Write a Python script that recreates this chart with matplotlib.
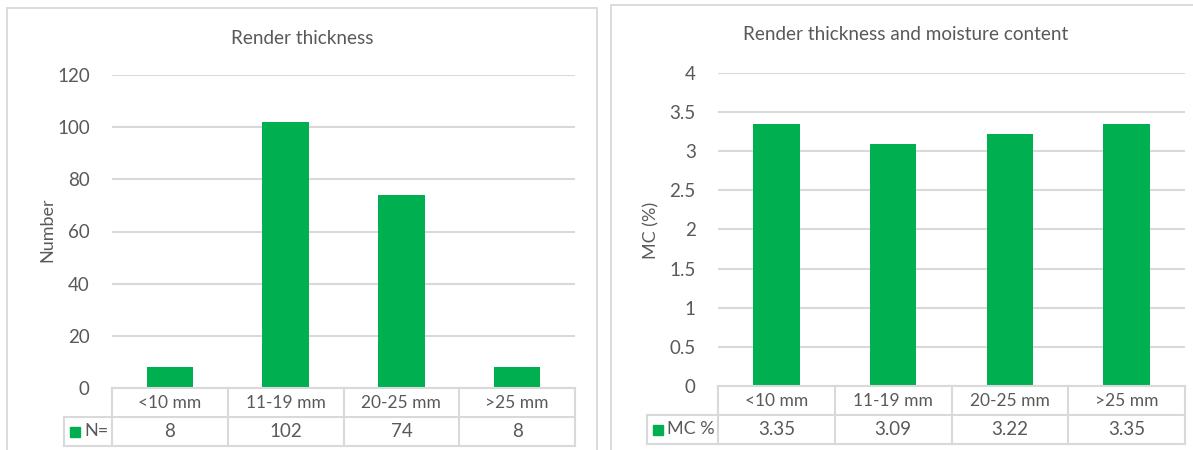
import matplotlib
matplotlib.use("Agg")
import matplotlib.pyplot as plt
from matplotlib.patches import Rectangle

# Data
categories = ["<10 mm", "11-19 mm", "20-25 mm", ">25 mm"]
counts = [8, 102, 74, 8]
moisture = [3.35, 3.09, 3.22, 3.35]
count_ticks = [0, 20, 40, 60, 80, 100, 120]
moisture_ticks = [0, 0.5, 1, 1.5, 2, 2.5, 3, 3.5, 4]

GREEN = "#00B050"
TEXT = "#595959"
GRID = "#D9D9D9"
FONT = "Lato"

W, H = 1193, 450
fig = plt.figure(figsize=(W / 100, H / 100), dpi=100)
plt.rcParams["font.family"] = [FONT, "DejaVu Sans"]


def fx(x):
    return x / W


def fy(y):
    return 1 - y / H


def panel(x0, y0, x1, y1, title, title_xy, ylabel, ylabel_xy, plot_box,
          values, ymax, ticks, tick_fmt, legend_label, value_fmt, legend_x, row_ys):
    # outer chart frame
    fig.patches.append(Rectangle((fx(x0), fy(y1)), fx(x1 - x0), (y1 - y0) / H,
                                 transform=fig.transFigure, fill=False,
                                 edgecolor=GRID, linewidth=1.3))
    fig.text(fx(title_xy[0]), fy(title_xy[1]), title, ha="center", va="center",
             fontsize=13.6, color=TEXT)
    fig.text(fx(ylabel_xy[0]), fy(ylabel_xy[1]), ylabel, ha="center", va="center",
             rotation=90, fontsize=13, color=TEXT)

    px0, py_top, px1, py_bot = plot_box
    ax = fig.add_axes([fx(px0), fy(py_bot), fx(px1 - px0), (py_bot - py_top) / H])
    ax.set_xlim(-0.5, len(categories) - 0.5)
    ax.set_ylim(0, ymax)
    ax.bar(range(len(values)), values, width=0.4, color=GREEN, zorder=3)
    ax.set_yticks(ticks)
    ax.set_yticklabels([tick_fmt(t) for t in ticks])
    ax.yaxis.grid(True, color=GRID, linewidth=1.5, zorder=0)
    ax.set_xticks([])
    for s in ax.spines.values():
        s.set_visible(False)
    ax.tick_params(axis="y", length=0, pad=16, labelsize=13.5, labelcolor=TEXT)

    # data table under the axis
    r0, r1, r2 = row_ys
    tab = fig.add_axes([fx(px0), fy(r2), fx(px1 - px0), (r2 - r0) / H])
    tab.set_xlim(-0.5, len(categories) - 0.5)
    tab.set_ylim(r2, r0)
    tab.axis("off")
    unit = (px1 - px0) / len(categories)
    lx = -0.5 - (px0 - legend_x) / unit
    kw = dict(color=GRID, linewidth=1.5, clip_on=False)
    tab.plot([-0.5, len(categories) - 0.5], [r0, r0], **kw)
    tab.plot([lx, len(categories) - 0.5], [r1, r1], **kw)
    tab.plot([lx, len(categories) - 0.5], [r2, r2], **kw)
    tab.plot([lx, lx], [r1, r2], **kw)
    for b in range(len(categories) + 1):
        tab.plot([b - 0.5, b - 0.5], [r0, r2], **kw)
    for i, (c, v) in enumerate(zip(categories, values)):
        tab.text(i, (r0 + r1) / 2, c, ha="center", va="center", fontsize=12.5, color=TEXT)
        tab.text(i, (r1 + r2) / 2, value_fmt(v), ha="center", va="center",
                 fontsize=13.5, color=TEXT)
    sq = 10 / unit
    tab.add_patch(Rectangle((lx + 6 / unit, (r1 + r2) / 2 - 5), sq, 10,
                            color=GREEN, clip_on=False))
    tab.text(lx + 20 / unit, (r1 + r2) / 2, legend_label, ha="left", va="center",
             fontsize=13, color=TEXT)
    return ax


panel(7, 8, 597, 470, "Render thickness", (302, 38), "Number", (47, 230),
      (112, 75, 575, 388), counts, 120, count_ticks, lambda t: f"{t:g}",
      "N=", lambda v: f"{v:g}", 64, (388, 417, 446))

panel(611, 5, 1210, 470, "Render thickness and moisture content", (906, 35),
      "MC (%)", (651, 230), (718, 73, 1185, 386), moisture, 4, moisture_ticks,
      lambda t: f"{t:g}", "MC %", lambda v: f"{v:.2f}", 647, (386, 415, 444))

fig.savefig("out.png", dpi=100)
